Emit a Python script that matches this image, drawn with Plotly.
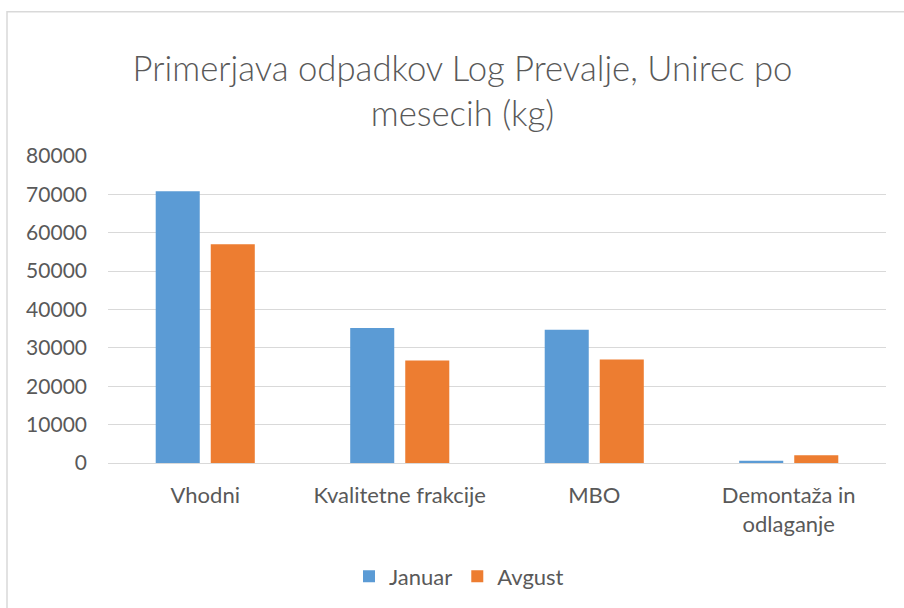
import plotly.graph_objects as go

categories = ["Vhodni", "Kvalitetne frakcije", "MBO", "Demontaža in<br>odlaganje"]
januar = [70800, 35200, 34700, 600]
avgust = [57000, 26700, 27000, 2000]
y_ticks = [0, 10000, 20000, 30000, 40000, 50000, 60000, 70000, 80000]

FONT = "Lato"
TXT = "#595959"

fig = go.Figure()
fig.add_trace(go.Bar(name="Januar", x=categories, y=januar, marker=dict(color="#5B9BD5", line=dict(width=0))))
fig.add_trace(go.Bar(name="Avgust", x=categories, y=avgust, marker=dict(color="#ED7D31", line=dict(width=0))))

W, H = 904, 608
L, R = 108, 886
T, B = 155.7, 463.4

fig.update_layout(
    width=W, height=H,
    margin=dict(l=L, r=W - R, t=T, b=H - B, autoexpand=False),
    paper_bgcolor="white", plot_bgcolor="white",
    barmode="group", bargap=0.434, bargroupgap=0.2,
    font=dict(family=FONT, color=TXT, size=21),
    title=dict(
        text="Primerjava odpadkov Log Prevalje, Unirec po<br>mesecih (kg)",
        font=dict(family=FONT, size=34.7, color=TXT, weight=300),
        x=462.5 / W, xanchor="center", xref="container",
        y=1 - 81 / H, yanchor="middle", yref="container",
    ),
    xaxis=dict(
        showgrid=False, showline=False, zeroline=False, ticks="",
        tickfont=dict(size=22, color=TXT), ticklabelstandoff=17,
    ),
    yaxis=dict(
        range=[0, 80000], tickvals=y_ticks, ticktext=[str(v) for v in y_ticks],
        showgrid=True, gridcolor="#D9D9D9", gridwidth=1,
        zeroline=True, zerolinecolor="#D9D9D9", zerolinewidth=1,
        showline=False, ticks="", tickfont=dict(size=21, color=TXT),
        ticklabelstandoff=20,
    ),
    legend=dict(
        orientation="h", x=(459 - L) / (R - L), xanchor="center",
        y=(B - 577) / (B - T), yanchor="middle",
        font=dict(size=22, color=TXT), itemwidth=30, traceorder="normal",
    ),
    shapes=[dict(
        type="rect", xref="paper", yref="paper",
        x0=(7 - L) / (R - L), x1=(915 - L) / (R - L),
        y0=(B - 620) / (B - T), y1=(B - 11) / (B - T),
        line=dict(color="#D9D9D9", width=1.5), fillcolor="rgba(0,0,0,0)", layer="below",
    )],
)

fig.write_html(
    "out.html",
    config={"displayModeBar": False},
    post_script="document.body.style.margin='0';document.body.style.padding='0';document.body.style.overflow='hidden';",
)
